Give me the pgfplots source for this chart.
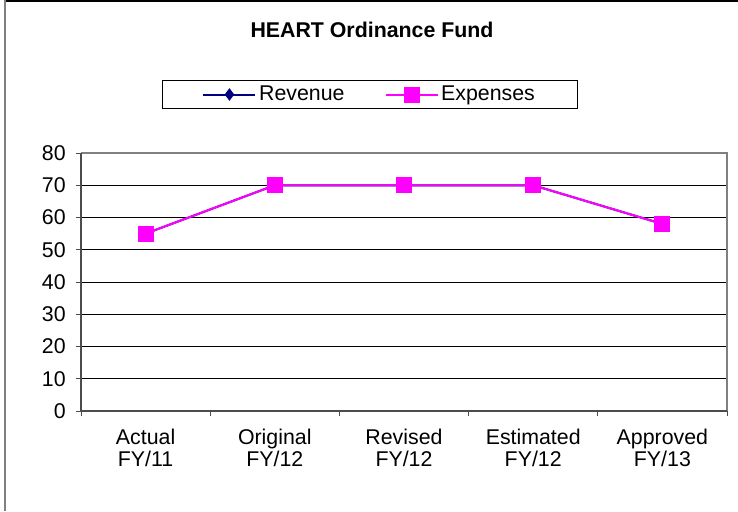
\documentclass[border=0pt]{standalone}
\usepackage{fontspec}
\setmainfont{Liberation Sans}
\usepackage{pgfplots}
\pgfplotsset{compat=1.18}
\definecolor{mag}{RGB}{255,0,255}
\definecolor{nav}{RGB}{0,0,128}
\begin{document}
\begin{tikzpicture}
\useasboundingbox (0,0) rectangle (553.5pt,383.25pt);
\draw[black, line width=1pt] (3pt,382.5pt) -- (553.5pt,382.5pt);
\draw[gray, line width=1.5pt] (3.6pt,383.25pt) -- (3.6pt,0pt);
\node[font=\bfseries\fontsize{16}{18}\selectfont] at (279pt,360.5pt) {HEART Ordinance Fund};
\begin{axis}[
  at={(60.75pt,75pt)}, anchor=south west,
  scale only axis, width=484.5pt, height=193.5pt,
  xmin=-0.5, xmax=4.5, ymin=0, ymax=80,
  xtick={0,1,2,3,4},
  xticklabels={{Actual\\FY/11},{Original\\FY/12},{Revised\\FY/12},{Estimated\\FY/12},{Approved\\FY/13}},
  minor xtick={-0.5,0.5,1.5,2.5,3.5,4.5},
  ytick={0,10,...,80},
  xtick pos=bottom, ytick pos=left,
  major x tick style={draw=none},
  minor x tick style={draw=black!70, line width=0.75pt},
  major y tick style={draw=black!70, line width=0.75pt},
  tick align=outside, major tick length=4pt, minor tick length=4pt,
  ymajorgrids, major grid style={black, line width=0.75pt},
  axis line style={draw=none},
  tick label style={font=\fontsize{16}{16.5}\selectfont},
  xticklabel style={align=center, yshift=-6pt},
  yticklabel style={xshift=-4pt},
  /pgf/number format/assume math mode=true,
  legend columns=2,
  legend style={at={(rel axis cs:0.4474,1.2267)}, anchor=center, draw=black, line width=0.75pt,
    font=\fontsize{16}{18}\selectfont, inner xsep=30pt, inner ysep=2pt,
    /tikz/every even column/.append style={column sep=28pt}},
  legend image code/.code={\draw[#1, mark repeat=2, mark phase=2] plot coordinates {(0pt,0pt) (19.5pt,0pt) (39pt,0pt)};},
  after end axis/.code={
    \draw[gray, line width=1.5pt] (rel axis cs:0,1) -- (rel axis cs:1,1) -- (rel axis cs:1,0);
    \draw[black!70, line width=1.5pt] (rel axis cs:0,1) -- (rel axis cs:0,0) -- (rel axis cs:1,0);
  },
]
\addplot[nav, line width=1.5pt, mark=diamond*, mark size=3.5pt, mark options={fill=nav}]
  coordinates {(0,55) (1,70) (2,70) (3,70) (4,58)};
\addlegendentry{Revenue}
\addplot[mag, line width=1.5pt, mark=square*, mark size=5.25pt, mark options={fill=mag}]
  coordinates {(0,55) (1,70) (2,70) (3,70) (4,58)};
\addlegendentry{Expenses}
\end{axis}
\end{tikzpicture}
\end{document}
